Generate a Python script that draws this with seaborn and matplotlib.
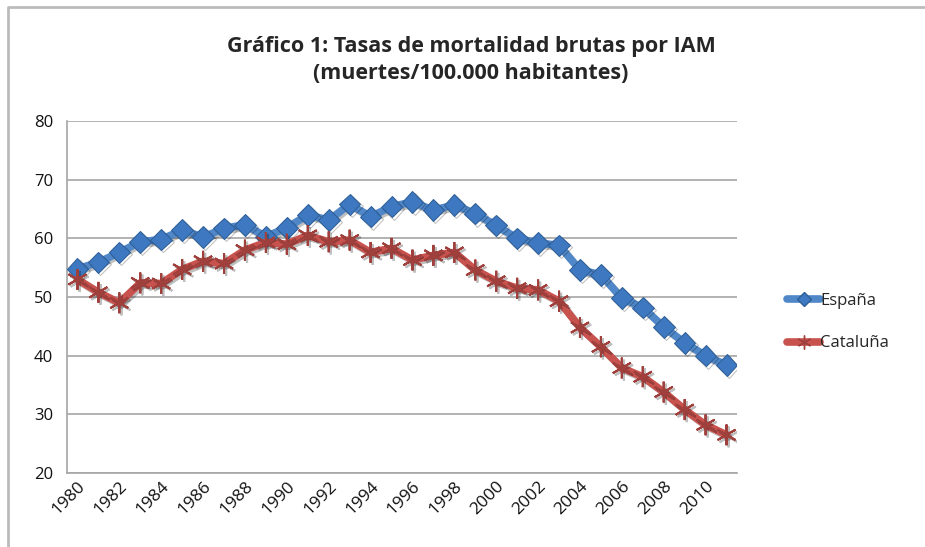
import numpy as np
import pandas as pd
import seaborn as sns
import matplotlib.pyplot as plt
from matplotlib.lines import Line2D
import matplotlib.patheffects as pe

years = list(range(1980, 2012))
espana = [54.8, 55.9, 57.6, 59.4, 59.8, 61.4, 60.2, 61.7, 62.3, 60.3, 61.8, 64.0, 63.1, 65.8,
          63.7, 65.4, 66.2, 64.8, 65.7, 64.2, 62.2, 60.0, 59.2, 58.8, 54.6, 53.8, 49.8, 48.2,
          44.9, 42.2, 40.0, 38.4]
cataluna = [53.0, 50.8, 49.0, 52.4, 52.3, 54.7, 56.1, 55.7, 58.0, 59.3, 59.0, 60.5, 59.4, 59.7,
            57.6, 58.3, 56.3, 57.1, 57.6, 54.6, 52.7, 51.5, 51.2, 49.3, 44.8, 41.5, 37.9, 36.4,
            33.8, 30.8, 28.2, 26.5]
title = "Gráfico 1: Tasas de mortalidad brutas por IAM\n(muertes/100.000 habitantes)"

sns.set_style("white")
plt.rcParams['font.family'] = ['Open Sans', 'DejaVu Sans']

fig = plt.figure(figsize=(9.25, 5.47), dpi=100)
ax = fig.add_axes([67 / 925, 1 - 473 / 547, (737 - 67) / 925, (473 - 121) / 547])

blue = "#4F87C8"
red = "#C8524E"
shadow = [pe.SimpleLineShadow(offset=(1.5, -1.5), alpha=0.25), pe.Normal()]

sns.lineplot(x=years, y=espana, ax=ax, color=blue, linewidth=5.5, marker="D",
             markersize=11, markeredgecolor="#2F5F98", markerfacecolor="#3E78C0",
             path_effects=shadow, zorder=3)
sns.lineplot(x=years, y=cataluna, ax=ax, color=red, linewidth=5.5, marker=(6, 2, 0),
             markersize=15, markeredgecolor="#A0403D", markeredgewidth=1.5,
             path_effects=shadow, zorder=3)

ax.set_xlim(1979.5, 2011.5)
ax.set_ylim(20, 80)
ax.set_yticks(range(20, 81, 10))
ax.yaxis.grid(True, color="#A6A6A6", linewidth=1.2)
ax.set_axisbelow(True)
for s in ["top", "right"]:
    ax.spines[s].set_visible(False)
for s in ["left", "bottom"]:
    ax.spines[s].set_color("#A6A6A6")
    ax.spines[s].set_linewidth(1.2)

ax.set_xticks([y for y in years if y % 2 == 0])
ax.set_xticklabels([str(y) for y in years if y % 2 == 0], rotation=45, ha="right",
                   rotation_mode="anchor", fontsize=12.5, color="#111111")
ax.tick_params(axis="x", which="major", length=0, pad=4)
ax.set_xticks(np.arange(1979.5, 2012, 1), minor=True)
ax.tick_params(axis="x", which="minor", length=6, color="#A6A6A6", width=1.2, direction="out")
ax.tick_params(axis="y", length=6, color="#A6A6A6", width=1.2, labelsize=12, pad=4,
               labelcolor="#111111")
ax.set_xlabel("")
ax.set_ylabel("")

handles = [Line2D([], [], color=blue, linewidth=5.5, marker="D", markersize=7,
                  markerfacecolor="#3E78C0", markeredgecolor="#2F5F98"),
           Line2D([], [], color=red, linewidth=5.5, marker=(6, 2, 0), markersize=10,
                  markeredgecolor="#A0403D")]
fig.legend(handles, ["España", "Cataluña"], loc="center left",
           bbox_to_anchor=(772 / 925, 1 - 322 / 547), frameon=False, fontsize=12,
           handlelength=2.0, handletextpad=0.0, labelspacing=1.6)

fig.text(471 / 925, 1 - 60 / 547, title, ha="center", va="center", fontsize=15.5,
         fontweight="bold", linespacing=1.4)

fig.add_artist(Line2D([8 / 925, 8 / 925, 1], [0, 1 - 7 / 547, 1 - 7 / 547],
                      transform=fig.transFigure, color="#BBBBBB", linewidth=2))

fig.savefig("out.png", dpi=100)
